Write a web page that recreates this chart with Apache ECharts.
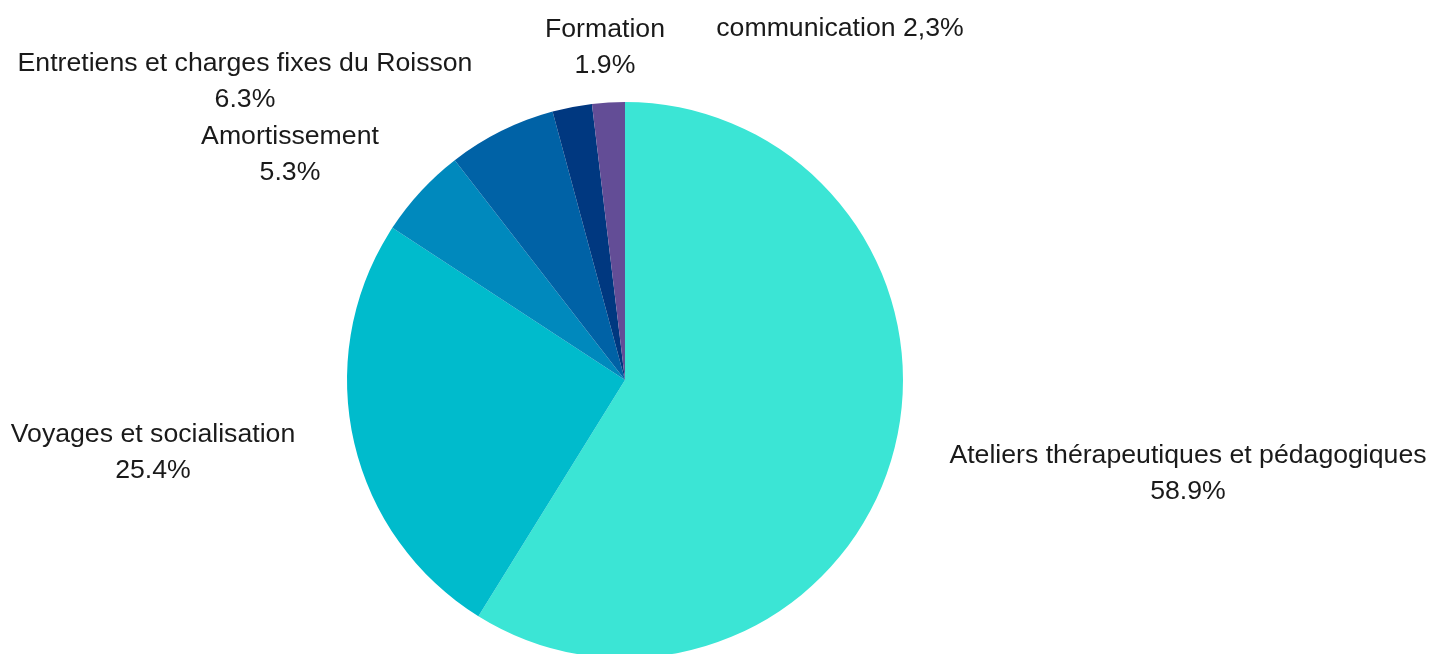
<!DOCTYPE html>
<html>
<head>
<meta charset="utf-8">
<script src="https://cdn.jsdelivr.net/npm/echarts@6/dist/echarts.min.js"></script>
<style>html,body{margin:0;padding:0;background:#fff;}#c{width:1429px;height:654px;}</style>
</head>
<body>
<div id="c"></div>
<script>
var categories = ["Ateliers thérapeutiques et pédagogiques", "Voyages et socialisation", "Amortissement", "Entretiens et charges fixes du Roisson", "communication", "Formation"];
var values = [58.9, 25.4, 5.3, 6.3, 2.3, 1.9];
var labelTexts = ["Ateliers thérapeutiques et pédagogiques\n58.9%", "Voyages et socialisation\n25.4%", "Amortissement\n5.3%", "Entretiens et charges fixes du Roisson\n6.3%", "communication 2,3%", "Formation\n1.9%"];
var colors = ["#3be5d5", "#00bbcc", "#0089bd", "#0062a6", "#003880", "#634d96"];
var labelPos = [[1188, 474], [153, 453], [290, 155], [245, 82], [840, 29], [605, 48]];

var chart = echarts.init(document.getElementById('c'), null, {renderer: 'canvas'});
chart.setOption({
  animation: false,
  backgroundColor: '#ffffff',
  series: [{
    type: 'pie',
    center: [625, 380],
    radius: 278,
    startAngle: 90,
    clockwise: true,
    avoidLabelOverlap: false,
    data: categories.map(function (c, i) {
      return {name: c, value: values[i], itemStyle: {color: colors[i]}};
    }),
    label: {
      show: true,
      position: 'outside',
      formatter: function (p) { return labelTexts[p.dataIndex]; },
      fontFamily: "'Liberation Sans'",
      fontSize: 26.67,
      lineHeight: 36,
      color: '#1a1a1a',
      align: 'center'
    },
    labelLine: {show: false},
    labelLayout: function (p) {
      var pos = labelPos[p.dataIndex];
      return {x: pos[0], y: pos[1], align: 'center', verticalAlign: 'middle'};
    },
    emphasis: {disabled: true}
  }]
});
</script>
</body>
</html>
